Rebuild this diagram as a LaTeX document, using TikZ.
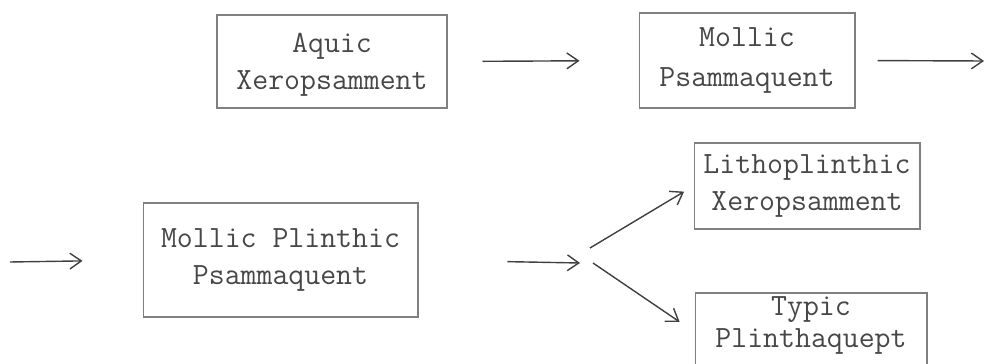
\documentclass[tikz,border=0pt]{standalone}
\usepackage{fontspec}
\usetikzlibrary{arrows.meta}

\tikzset{
  soil/.style={draw=black!50, line width=0.6pt, align=center, inner sep=0pt,
    text=black!72, font=\ttfamily\fontsize{17.6}{21}\selectfont},
  flow/.style={-{Straight Barb[length=6.5pt,width=9pt]}, line width=0.8pt, black!75},
}

\begin{document}
\begin{tikzpicture}[x=0.02cm,y=-0.02cm]
            \useasboundingbox (0,0) rectangle (984,364);
            % First row
            \node[soil,minimum width=4.6cm,minimum height=1.86cm,text depth=0.5pt] (aquic) at (332,61.5) {Aquic\\Xeropsamment};
            \node[soil,minimum width=4.32cm,minimum height=1.9cm] (mollic) at (747,60.5) {Mollic\\[1.5pt]Psammaquent};
            \coordinate (rowend) at (984,61);
            \draw[flow,shorten <=0.7cm,shorten >=1.18cm] (aquic.east) -- (mollic.west);
            \draw[flow,shorten <=0.44cm] (mollic.east) -- (rowend);
            % Second row
            \coordinate (rowstart) at (10,262);
            \node[soil,minimum width=5.5cm,minimum height=2.28cm] (plinthic) at (280.5,260) {Mollic Plinthic\\Psammaquent};
            \coordinate (split) at (580,263);
            \coordinate (upfrom) at (590,248);
            \coordinate (downfrom) at (593,263);
            \draw[flow,shorten >=1.2cm] (rowstart) -- (plinthic.west);
            \draw[flow,shorten <=1.78cm] (plinthic.east) -- (split);
            % Two end members
            \node[soil,minimum width=4.52cm,minimum height=1.72cm] (litho) at (807,186) {Lithoplinthic\\Xeropsamment};
            \node[soil,minimum width=4.64cm,minimum height=1.56cm,text depth=11.3pt] (typic) at (811,332) {Typic\\[-2.5pt]Plinthaquept};
            \draw[flow,shorten >=0.22cm] (upfrom) -- (litho.west);
            \draw[flow,shorten >=0.36cm] (downfrom) -- (typic.west);
\end{tikzpicture}
\end{document}
